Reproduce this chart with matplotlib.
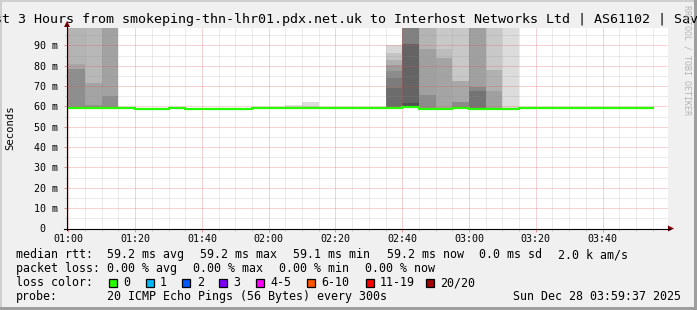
import numpy as np
import matplotlib.pyplot as plt
from matplotlib.patches import Rectangle, Polygon
from matplotlib.lines import Line2D

W, H = 697, 310
MONO = 'DejaVu Sans Mono'

# 5 minute steps starting at 01:00 (minutes after 01:00)
step_min = list(range(0, 175, 5))

# median rtt per step (ms), 01:00 .. 03:50
median_rtt = [59.3, 59.3, 59.3, 59.3, 58.7, 58.7, 59.4, 58.9, 58.9, 58.9,
              58.9, 59.3, 59.3, 59.3, 59.3, 59.3, 59.3, 59.3, 59.3, 59.4,
              59.6, 58.9, 58.9, 59.5, 59.0, 59.0, 58.9, 59.4, 59.4, 59.4,
              59.4, 59.4, 59.4, 59.4, 59.4]

# smoke: step index and band edges (ms), 150 = off the top of the scale
smoke_steps = [0, 1, 2, 13, 14, 19, 20, 21, 22, 23, 24, 25, 26]
smoke_edges = [
    [59.0, 78.5, 80.9, 150],
    [59.0, 60.7, 71.5, 150],
    [59.0, 65.2, 150],
    [59.3, 60.6],
    [59.3, 62.4],
    [59.2, 69.1, 74.1, 77.5, 80.4, 82.9, 86.3, 90.3],
    [59.2, 61.7, 90.7, 150],
    [58.9, 65.7, 88.3, 150],
    [58.9, 83.7, 88.3, 150],
    [59.4, 62.4, 72.3, 150],
    [59.0, 67.8, 69.7, 150],
    [59.0, 67.5, 78.0, 150],
    [58.9, 150],
]
smoke_grays = [
    [0x8e, 0xa6, 0xb4],
    [0x90, 0xa4, 0xb8],
    [0x8e, 0xa2],
    [0xe2],
    [0xdc],
    [0x6c, 0x7c, 0x8c, 0x9c, 0xb0, 0xc4, 0xd8],
    [0x50, 0x64, 0x80],
    [0x8c, 0xa0, 0xb4],
    [0xa4, 0xbc, 0xc8],
    [0x8a, 0xa8, 0xc8],
    [0x74, 0x88, 0xa0],
    [0xa0, 0xb0, 0xc8],
    [0xdc],
]

y_ticks = [0, 10, 20, 30, 40, 50, 60, 70, 80, 90]
y_labels = ['0  ', '10 m', '20 m', '30 m', '40 m', '50 m', '60 m', '70 m', '80 m', '90 m']
x_ticks = [0, 20, 40, 60, 80, 100, 120, 140, 160]
x_labels = ['01:00', '01:20', '01:40', '02:00', '02:20', '02:40', '03:00', '03:20', '03:40']

rtt_labels = ['59.2 ms avg', '59.2 ms max', '59.1 ms min', '59.2 ms now', '0.0 ms sd', '2.0 k am/s']
loss_labels_pct = ['0.00 % avg', '0.00 % max', '0.00 % min', '0.00 % now']
loss_names = ['0', '1', '2', '3', '4-5', '6-10', '11-19', '20/20']
loss_colors = ['#26ff00', '#00b8ff', '#0059ff', '#7e00ff', '#ff00ff', '#ff5500', '#ff0000', '#a10000']

title = 'Last 3 Hours from smokeping-thn-lhr01.pdx.net.uk to Interhost Networks Ltd | AS61102 | Sav'


def fx(x):
    return x / W


def fy(y):
    return 1 - y / H


fig = plt.figure(figsize=(W / 100, H / 100), dpi=100, facecolor='#f0f0f0')
ax = fig.add_axes([fx(67), fy(228.5), fx(601), 200.5 / H])
ax.set_facecolor('white')

# smoke
for s, edges, grays in zip(smoke_steps, smoke_edges, smoke_grays):
    for lo, hi, g in zip(edges[:-1], edges[1:], grays):
        c = '#%02x%02x%02x' % (g, g, g)
        ax.bar(step_min[s], hi - lo, bottom=lo, width=5, align='edge',
               color=c, linewidth=0, zorder=1)

# median line
xs = step_min + [step_min[-1] + 5]
ys = median_rtt + [median_rtt[-1]]
ax.step(xs, ys, where='post', color=loss_colors[0], lw=1.6, zorder=3)

ax.set_xlim(-0.4, 179.6)
ax.set_ylim(0, 98.6)

ax.set_xticks(x_ticks)
ax.set_xticklabels(x_labels, family=MONO, fontsize=7.2)
ax.set_xticks(range(0, 180, 5), minor=True)
ax.set_yticks(y_ticks)
ax.set_yticklabels(y_labels, family=MONO, fontsize=7.2)
ax.set_yticks(range(0, 100, 5), minor=True)

ax.set_axisbelow(False)
ax.grid(which='minor', color='#8f8f8f', alpha=0.35, lw=0.72, ls=(0, (1, 1)))
ax.grid(which='major', color='#de5050', alpha=0.5, lw=0.72, ls=(0, (1, 1)))
ax.tick_params(which='major', length=2.2, width=0.72, color='#e89090', pad=1.6)
ax.tick_params(which='minor', length=1.5, width=0.72, color='#c8c8c8')
ax.tick_params(axis='y', which='major', pad=4)

for sp in ax.spines.values():
    sp.set_visible(False)

# y axis title
fig.text(fx(10), fy(128), 'Seconds', rotation=90, ha='center', va='center',
         family=MONO, fontsize=7.6)

# axes lines and arrows
fig.add_artist(Line2D([fx(67), fx(67)], [fy(230), fy(24)], color='black', lw=0.8))
fig.add_artist(Line2D([fx(64), fx(670)], [fy(228.5), fy(228.5)], color='black', lw=0.8))
fig.add_artist(Polygon([(fx(64), fy(27)), (fx(70), fy(27)), (fx(67), fy(21))],
                       closed=True, color='#7f0000', lw=0))
fig.add_artist(Polygon([(fx(668), fy(225.5)), (fx(668), fy(231.5)), (fx(674), fy(228.5))],
                       closed=True, color='#7f0000', lw=0))

# title
fig.text(fx(-22), fy(23.5), title, ha='left', va='baseline', fontsize=9.6, family=MONO)

# side credit
fig.text(fx(687), fy(60), 'RRDTOOL / TOBI OETIKER', rotation=270, ha='center', va='center',
         fontsize=6, family=MONO, color='#b4b4b4')

# legend rows
fs = 8.4
fig.text(fx(16), fy(258), 'median rtt:', fontsize=fs, family=MONO, va='baseline')
for x, t in zip([107.3, 200, 293.3, 386.7, 479, 558], rtt_labels):
    fig.text(fx(x), fy(258), t, fontsize=fs, family=MONO, va='baseline')

fig.text(fx(16), fy(272), 'packet loss:', fontsize=fs, family=MONO, va='baseline')
for x, t in zip([107.3, 193.3, 279.3, 365], loss_labels_pct):
    fig.text(fx(x), fy(272), t, fontsize=fs, family=MONO, va='baseline')

fig.text(fx(16), fy(286), 'loss color:', fontsize=fs, family=MONO, va='baseline')
for x, name, col in zip([108.5, 145.5, 182.2, 218.8, 255.8, 307, 365.6, 426],
                        loss_names, loss_colors):
    fig.add_artist(Rectangle((fx(x), fy(286.8)), fx(8.2), 8.2 / H,
                             facecolor=col, edgecolor='black', lw=0.9))
    fig.text(fx(x + 14.5), fy(286), name, fontsize=fs, family=MONO, va='baseline')

fig.text(fx(16), fy(300), 'probe:', fontsize=fs, family=MONO, va='baseline')
fig.text(fx(107.3), fy(300), '20 ICMP Echo Pings (56 Bytes) every 300s',
         fontsize=fs, family=MONO, va='baseline')
fig.text(fx(513), fy(300), 'Sun Dec 28 03:59:37 2025', fontsize=fs, family=MONO, va='baseline')

# 3d frame
fig.add_artist(Rectangle((0, 0), fx(2), 1, color='#cfcfcf', lw=0))
fig.add_artist(Rectangle((0, fy(2)), 1, 2 / H, color='#cfcfcf', lw=0))
fig.add_artist(Rectangle((fx(694), 0), fx(3), 1, color='#9e9e9e', lw=0))
fig.add_artist(Rectangle((0, 0), 1, 3 / H, color='#9e9e9e', lw=0))

fig.savefig('out.png', dpi=100, facecolor=fig.get_facecolor())
